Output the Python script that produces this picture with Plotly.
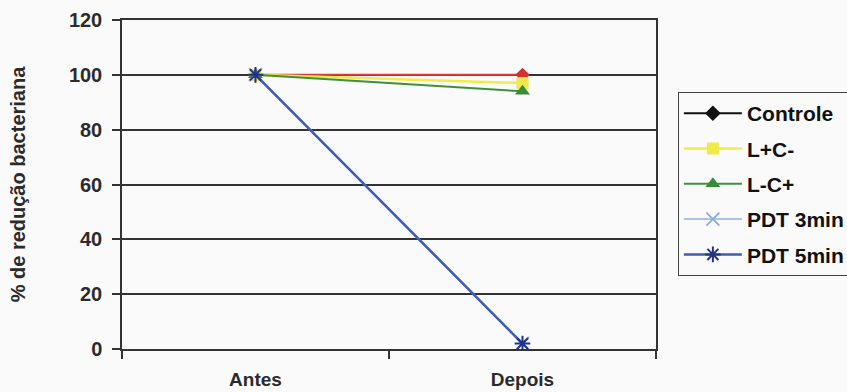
import plotly.graph_objects as go

# Categories and series values (% bacterial reduction)
categorias = ["Antes", "Depois"]
controle = [100, 100]
l_mais_c_menos = [100, 97]
l_menos_c_mais = [100, 94]
pdt_3min = [100, 2]
pdt_5min = [100, 2]

y_ticks = [0, 20, 40, 60, 80, 100, 120]

FONT = "Liberation Sans, Arial, sans-serif"
TXT = "#2b2b2b"
BG = "#fafafb"

fig = go.Figure()

# Plotted series (Controle drawn in red, its legend key in black)
fig.add_trace(go.Scatter(
    x=categorias, y=controle, mode="lines+markers", name="Controle",
    line=dict(color="#e0393b", width=2),
    marker=dict(symbol="diamond", size=11, color="#d83030"),
    showlegend=False, legendgroup="g1"))
fig.add_trace(go.Scatter(
    x=[None], y=[None], mode="lines+markers", name="Controle",
    line=dict(color="#111111", width=2),
    marker=dict(symbol="diamond", size=12, color="#111111"),
    legendgroup="g1"))
fig.add_trace(go.Scatter(
    x=categorias, y=l_mais_c_menos, mode="lines+markers", name="L+C-",
    line=dict(color="#f0ec48", width=2.5),
    marker=dict(symbol="square", size=12, color="#efe94a"),
    legendgroup="g2"))
fig.add_trace(go.Scatter(
    x=categorias, y=l_menos_c_mais, mode="lines+markers", name="L-C+",
    line=dict(color="#3f8f3f", width=2),
    marker=dict(symbol="triangle-up", size=13, color="#3a8a3a"),
    legendgroup="g3"))
fig.add_trace(go.Scatter(
    x=categorias, y=pdt_3min, mode="lines+markers", name="PDT 3min",
    line=dict(color="#a9c4e4", width=2),
    marker=dict(symbol="x-thin-open", size=13, color="#8fb0dc",
                line=dict(width=2, color="#8fb0dc")),
    legendgroup="g4"))
fig.add_trace(go.Scatter(
    x=categorias, y=pdt_5min, mode="lines+markers", name="PDT 5min",
    line=dict(color="#3d5bbd", width=2.5),
    marker=dict(symbol="asterisk-open", size=13, color="#22348a",
                line=dict(width=2, color="#22348a")),
    legendgroup="g5"))

fig.update_layout(
    width=847, height=392,
    margin=dict(l=122, r=191, t=20, b=43, autoexpand=False),
    paper_bgcolor=BG, plot_bgcolor=BG,
    font=dict(family=FONT, color=TXT),
    xaxis=dict(
        type="category", tickson="boundaries", range=[-0.5, 1.5],
        automargin=False,
        showline=True, linecolor="#333333", linewidth=1.5, mirror=True,
        ticks="outside", ticklen=8, tickwidth=1.5, tickcolor="#333333",
        ticklabelstandoff=12,
        showgrid=False, zeroline=False,
        tickfont=dict(family=FONT, size=19, color=TXT, weight="bold"),
    ),
    yaxis=dict(
        range=[0, 120], tickvals=y_ticks, automargin=False,
        showline=True, linecolor="#333333", linewidth=1.5, mirror=True,
        ticks="outside", ticklen=8, tickwidth=1.5, tickcolor="#333333",
        ticklabelstandoff=6,
        showgrid=True, gridcolor="#333333", gridwidth=1.5, zeroline=False,
        tickfont=dict(family=FONT, size=20, color=TXT, weight="bold"),
        title=dict(text="% de redução bacteriana", standoff=38,
                   font=dict(family=FONT, size=20, color=TXT, weight="bold")),
    ),
    legend=dict(
        x=1.041, y=0.781, xanchor="left", yanchor="top",
        bordercolor="#444444", borderwidth=1, bgcolor=BG,
        traceorder="grouped", tracegroupgap=5, itemwidth=58,
        font=dict(family=FONT, size=21, color="#111111", weight="bold"),
    ),
)

fig.write_html("out.html")
